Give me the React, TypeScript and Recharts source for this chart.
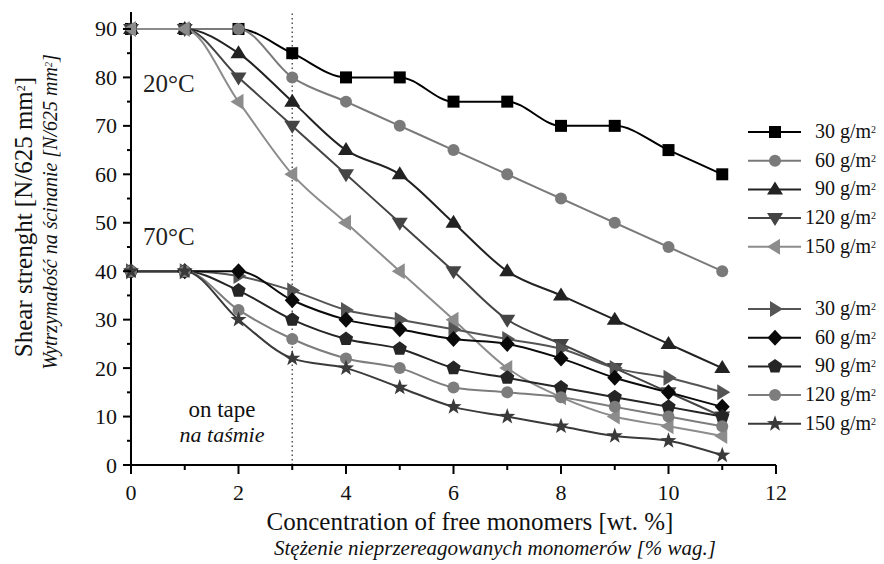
import { LineChart, Line, XAxis, YAxis, ReferenceLine, Customized } from 'recharts';

const conc = [0, 1, 2, 3, 4, 5, 6, 7, 8, 9, 10, 11];

// 20°C
const t20_30 = [90, 90, 90, 85, 80, 80, 75, 75, 70, 70, 65, 60];
const t20_60 = [90, 90, 90, 80, 75, 70, 65, 60, 55, 50, 45, 40];
const t20_90 = [90, 90, 85, 75, 65, 60, 50, 40, 35, 30, 25, 20];
const t20_120 = [90, 90, 80, 70, 60, 50, 40, 30, 25, 20, 15, 10];
const t20_150 = [90, 90, 75, 60, 50, 40, 30, 20, 14, 10, 8, 6];

// 70°C
const t70_30 = [40, 40, 39, 36, 32, 30, 28, 26, 24, 20, 18, 15];
const t70_60 = [40, 40, 40, 34, 30, 28, 26, 25, 22, 18, 15, 12];
const t70_90 = [40, 40, 36, 30, 26, 24, 20, 18, 16, 14, 12, 10];
const t70_120 = [40, 40, 32, 26, 22, 20, 16, 15, 14, 12, 10, 8];
const t70_150 = [40, 40, 30, 22, 20, 16, 12, 10, 8, 6, 5, 2];

const grams = ['30', '60', '90', '120', '150'];
const xTicks = [0, 1, 2, 3, 4, 5, 6, 7, 8, 9, 10, 11, 12];
const yTicks = [0, 5, 10, 15, 20, 25, 30, 35, 40, 45, 50, 55, 60, 65, 70, 75, 80, 85, 90];

const data = conc.map((x, i) => ({
  x,
  a30: t20_30[i], a60: t20_60[i], a90: t20_90[i], a120: t20_120[i], a150: t20_150[i],
  b30: t70_30[i], b60: t70_60[i], b90: t70_90[i], b120: t70_120[i], b150: t70_150[i],
}));

const series20 = [
  { key: 'a30', shape: 'square', color: '#000000' },
  { key: 'a60', shape: 'circle', color: '#7a7a7a' },
  { key: 'a90', shape: 'up', color: '#222222' },
  { key: 'a120', shape: 'down', color: '#444444' },
  { key: 'a150', shape: 'left', color: '#8c8c8c' },
];
const series70 = [
  { key: 'b30', shape: 'right', color: '#555555' },
  { key: 'b60', shape: 'diamond', color: '#0a0a0a' },
  { key: 'b90', shape: 'pentagon', color: '#252525' },
  { key: 'b120', shape: 'circle', color: '#7d7d7d' },
  { key: 'b150', shape: 'star', color: '#3a3a3a' },
];

const FONT = '"Liberation Serif", "Times New Roman", serif';

function polyPoints(cx: number, cy: number, n: number, rOut: number, rIn?: number) {
  const pts: string[] = [];
  const count = rIn ? n * 2 : n;
  for (let i = 0; i < count; i++) {
    const r = rIn && i % 2 === 1 ? rIn : rOut;
    const a = -Math.PI / 2 + (i * 2 * Math.PI) / count;
    pts.push(`${cx + r * Math.cos(a)},${cy + r * Math.sin(a)}`);
  }
  return pts.join(' ');
}

function Marker({ shape, cx, cy, fill }: { shape: string; cx: number; cy: number; fill: string }) {
  if (cx == null || cy == null) return null;
  switch (shape) {
    case 'square':
      return <rect x={cx - 6} y={cy - 6} width={12} height={12} fill={fill} />;
    case 'circle':
      return <circle cx={cx} cy={cy} r={6} fill={fill} />;
    case 'up':
      return <polygon points={`${cx},${cy - 8} ${cx + 8},${cy + 5} ${cx - 8},${cy + 5}`} fill={fill} />;
    case 'down':
      return <polygon points={`${cx},${cy + 8} ${cx + 8},${cy - 5} ${cx - 8},${cy - 5}`} fill={fill} />;
    case 'left':
      return <polygon points={`${cx - 8},${cy} ${cx + 5},${cy - 8} ${cx + 5},${cy + 8}`} fill={fill} />;
    case 'right':
      return <polygon points={`${cx + 8},${cy} ${cx - 5},${cy - 8} ${cx - 5},${cy + 8}`} fill={fill} />;
    case 'diamond':
      return <polygon points={`${cx},${cy - 8} ${cx + 7.5},${cy} ${cx},${cy + 8} ${cx - 7.5},${cy}`} fill={fill} />;
    case 'pentagon':
      return <polygon points={polyPoints(cx, cy, 5, 7.5)} fill={fill} />;
    case 'star':
      return <polygon points={polyPoints(cx, cy, 5, 8.5, 3.4)} fill={fill} />;
    default:
      return null;
  }
}

function XTick(props: any) {
  const { x, y, payload } = props;
  const major = payload.value % 2 === 0;
  return (
    <g>
      <line x1={x} x2={x} y1={y} y2={y + (major ? 9 : 5)} stroke="#000" strokeWidth={2} />
      {major && (
        <text x={x} y={y + 35} textAnchor="middle" fontFamily={FONT} fontSize={22} fill="#111">
          {payload.value}
        </text>
      )}
    </g>
  );
}

function YTick(props: any) {
  const { x, y, payload } = props;
  const major = payload.value % 10 === 0;
  return (
    <g>
      <line x1={x - (major ? 8 : 4)} x2={x} y1={y} y2={y} stroke="#000" strokeWidth={2} />
      {major && (
        <text x={x - 14} y={y + 7.5} textAnchor="end" fontFamily={FONT} fontSize={22} fill="#111">
          {payload.value}
        </text>
      )}
    </g>
  );
}

function LegendRow({ y, shape, color, label }: { y: number; shape: string; color: string; label: string }) {
  return (
    <g>
      <line x1={748} x2={801} y1={y} y2={y} stroke={color} strokeWidth={2} />
      <Marker shape={shape} cx={775} cy={y} fill={color} />
      <text x={876} y={y + 6} textAnchor="end" fontFamily={FONT} fontSize={20} fill="#111">
        {label} g/m
        <tspan fontSize={10} baselineShift="super">2</tspan>
      </text>
    </g>
  );
}

function Annotations() {
  return (
    <g>
      <text x={143} y={92} fontFamily={FONT} fontSize={25} fill="#222">20°C</text>
      <text x={143} y={245} fontFamily={FONT} fontSize={25} fill="#222">70°C</text>
      <text x={222} y={417} textAnchor="middle" fontFamily={FONT} fontSize={23} fill="#111">on tape</text>
      <text x={222} y={442} textAnchor="middle" fontFamily={FONT} fontSize={22} fontStyle="italic" fill="#111">na taśmie</text>

      <text transform="translate(32,217) rotate(-90)" textAnchor="middle" fontFamily={FONT} fontSize={25} fill="#111">
        Shear strenght [N/625 mm<tspan fontSize={12} baselineShift="super">2</tspan>]
      </text>
      <text transform="translate(57,212) rotate(-90)" textAnchor="middle" fontFamily={FONT} fontSize={20} fontStyle="italic" fill="#111">
        Wytrzymałość na ścinanie [N/625 mm<tspan fontSize={10} baselineShift="super">2</tspan>]
      </text>

      <text x={470} y={530} textAnchor="middle" fontFamily={FONT} fontSize={25} fill="#111">
        Concentration of free monomers [wt. %]
      </text>
      <text x={495} y={555} textAnchor="middle" fontFamily={FONT} fontSize={21} fontStyle="italic" fill="#111">
        Stężenie nieprzereagowanych monomerów [% wag.]
      </text>

      {series20.map((s, i) => (
        <LegendRow key={s.key} y={132 + i * 28.7} shape={s.shape} color={s.color} label={grams[i]} />
      ))}
      {series70.map((s, i) => (
        <LegendRow key={s.key} y={309 + i * 28.7} shape={s.shape} color={s.color} label={grams[i]} />
      ))}
    </g>
  );
}

export default function App() {
  const all = [...series20, ...series70];
  return (
    <div style={{ position: 'absolute', left: 0, top: 0, width: 884, height: 564, background: '#fff' }}>
      <LineChart width={884} height={564} data={data} margin={{ top: 12, right: 108, bottom: 69, left: 71 }}>
        <XAxis
          dataKey="x"
          type="number"
          domain={[0, 12]}
          ticks={xTicks}
          interval={0}
          height={30}
          axisLine={{ stroke: '#000', strokeWidth: 2 }}
          tickLine={false}
          tickSize={0}
          tickMargin={0}
          tick={<XTick />}
        />
        <YAxis
          type="number"
          domain={[0, 93.5]}
          ticks={yTicks}
          interval={0}
          width={60}
          axisLine={{ stroke: '#000', strokeWidth: 2 }}
          tickLine={false}
          tickSize={0}
          tickMargin={0}
          tick={<YTick />}
        />
        <ReferenceLine x={3} stroke="#555" strokeWidth={1.5} strokeDasharray="1.5 3" />
        {all.map((s) => (
          <Line
            key={s.key}
            dataKey={s.key}
            type="monotone"
            stroke={s.color}
            strokeWidth={2}
            isAnimationActive={false}
            activeDot={false}
            dot={(p: any) => (
              <Marker key={`${s.key}-${p.index}`} shape={s.shape} cx={p.cx} cy={p.cy} fill={s.color} />
            )}
          />
        ))}
        <Customized component={<Annotations />} />
      </LineChart>
    </div>
  );
}
